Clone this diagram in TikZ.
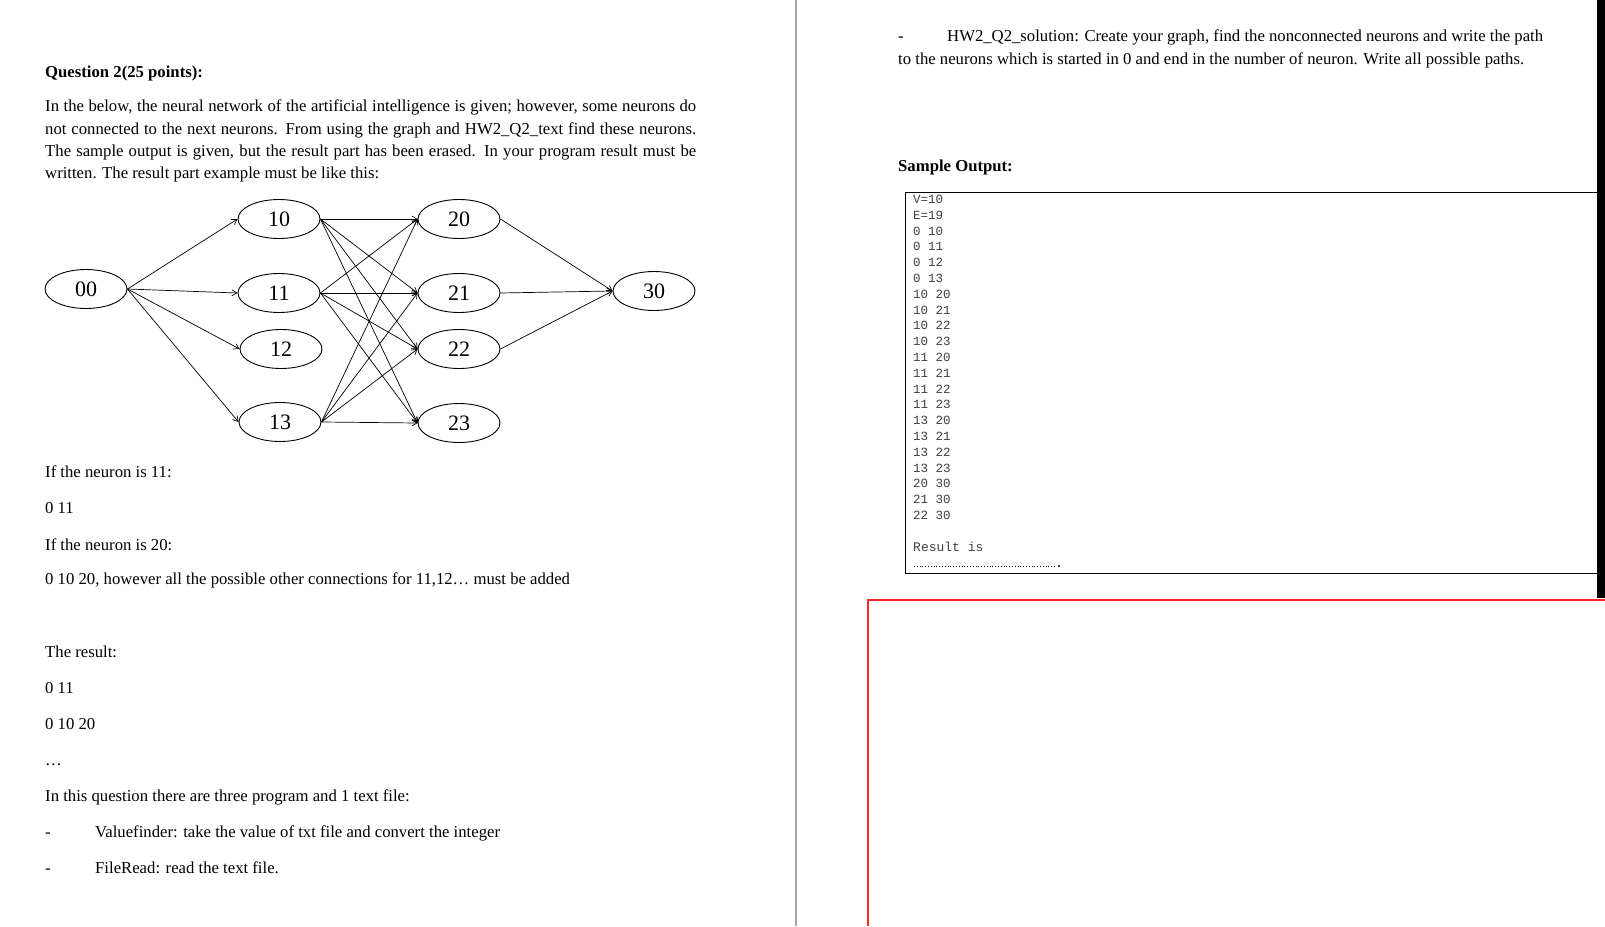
\documentclass[tikz,border=0pt]{standalone}
\usepackage{fontspec}
\setmainfont{Liberation Serif}
\setmonofont{Liberation Mono}
\usetikzlibrary{arrows.meta,shapes.geometric}
\begin{document}
\begin{tikzpicture}[x=1pt,y=-1pt,
  neuron/.style={draw,ellipse,line width=0.9pt,minimum width=82pt,minimum height=39pt,inner sep=0pt,font=\fontsize{22}{22}\selectfont},
  conn/.style={-{Straight Barb[length=5pt,width=6pt]},line width=0.7pt},
  txt/.style={anchor=base west,inner sep=0pt,font=\fontsize{16.7}{20}\selectfont},
  mono/.style={anchor=base west,inner sep=0pt,font=\ttfamily\fontsize{13}{15.1}\selectfont,text=black!75}]
\useasboundingbox (0,0) rectangle (1605,926);
\fill[white] (0,0) rectangle (1605,926);
% page dividers
\draw[gray!70,line width=1.5pt] (796,0) -- (796,926);
\fill[black] (1597,0) rectangle (1605,598);
\draw[red!85,line width=1.2pt] (868,926) -- (868,600) -- (1605,600);
% left text
\node[txt,font=\bfseries\fontsize{16.7}{20}\selectfont] (q) at (45,77) {Question 2(25 points):};
\node[anchor=north west,inner sep=0pt,text width=651pt,align=justify,font=\fontsize{16.7}{22.2}\selectfont] (para) at (45,100)
 {In the below, the neural network of the artificial intelligence is given; however, some neurons do\linebreak not connected to the next neurons. From using the graph and HW2\_Q2\_text find these neurons.\linebreak The sample output is given, but the result part has been erased. In your program result must be\linebreak written. The result part example must be like this:};
% graph
\node[neuron] (n00) at (86,289) {00};
\node[neuron] (n10) at (279,219) {10};
\node[neuron] (n11) at (279,293) {11};
\node[neuron] (n12) at (281,349) {12};
\node[neuron] (n13) at (280,422) {13};
\node[neuron] (n20) at (459,219) {20};
\node[neuron] (n21) at (459,293) {21};
\node[neuron] (n22) at (459,349) {22};
\node[neuron] (n23) at (459,423) {23};
\node[neuron] (n30) at (654,291) {30};
\foreach \t in {10,11,12,13} \draw[conn] (n00.east) -- (n\t.west);
\foreach \s in {10,11,13} \foreach \t in {20,21,22,23} \draw[conn] (n\s.east) -- (n\t.west);
\foreach \s in {20,21,22} \draw[conn] (n\s.east) -- (n30.west);
% lower left text
\node[txt] (l1) at (45,477) {If the neuron is 11:};
\node[txt] (l2) at (45,513) {0 11};
\node[txt] (l3) at (45,550) {If the neuron is 20:};
\node[txt] (l4) at (45,584) {0 10 20, however all the possible other connections for 11,12\ldots{} must be added};
\node[txt] (l5) at (45,657) {The result:};
\node[txt] (l6) at (45,693) {0 11};
\node[txt] (l7) at (45,729) {0 10 20};
\node[txt] (l8) at (45,765) {\ldots};
\node[txt] (l9) at (45,801) {In this question there are three program and 1 text file:};
\node[txt] (d1) at (45,837) {-};
\node[txt] (l10) at (95,837) {Valuefinder: take the value of txt file and convert the integer};
\node[txt] (d2) at (45,873) {-};
\node[txt] (l11) at (95,873) {FileRead: read the text file.};
% right text
\node[txt] (d3) at (898,41) {-};
\node[txt] (r1) at (947,41) {HW2\_Q2\_solution: Create your graph, find the nonconnected neurons and write the path};
\node[txt] (r2) at (898,64) {to the neurons which is started in 0 and end in the number of neuron. Write all possible paths.};
\node[txt,font=\bfseries\fontsize{16.7}{20}\selectfont] (so) at (898,171) {Sample Output:};
\draw[line width=1pt] (1597,192) -- (905,192) -- (905,573) -- (1597,573);
\node[anchor=north west,inner sep=0pt,font=\ttfamily\fontsize{12.5}{15.8}\selectfont,text=black!75,align=left] (out) at (913,195)
 {V=10\\E=19\\0 10\\0 11\\0 12\\0 13\\10 20\\10 21\\10 22\\10 23\\11 20\\11 21\\11 22\\11 23\\13 20\\13 21\\13 22\\13 23\\20 30\\21 30\\22 30};
\node[mono] (res) at (913,551) {Result is};
\draw[dotted,line width=0.8pt] (914,566) -- (1055,566);
\fill (1059,566) circle (1.1pt);
\end{tikzpicture}
\end{document}
